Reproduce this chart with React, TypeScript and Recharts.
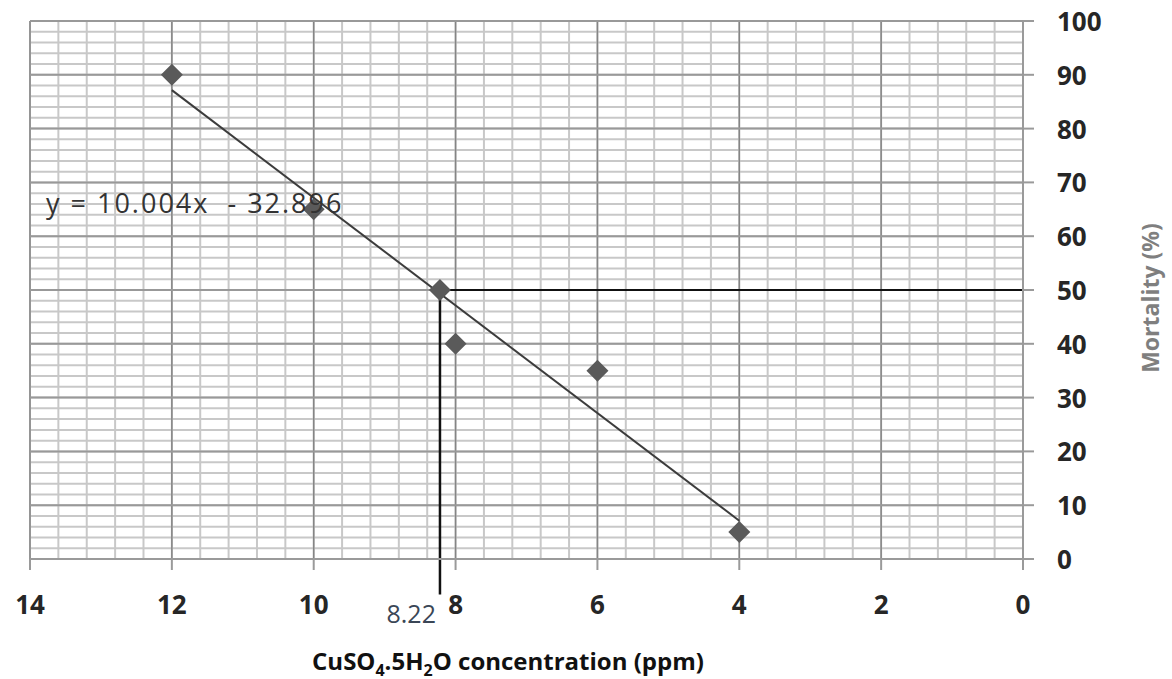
import {
  ComposedChart,
  Scatter,
  XAxis,
  YAxis,
  ReferenceLine,
  Label,
} from "recharts";

// measured mortality at each concentration
const concentrations = [12, 10, 8.22, 8, 6, 4];
const mortality = [90, 65, 50, 40, 35, 5];

// linear trend reported on the chart
const slope = 10.004;
const intercept = -32.896;
const trendFrom = 12;
const trendTo = 4;

const lc50 = 8.22;
const lcLevel = 50;

const xTicks = [0, 2, 4, 6, 8, 10, 12, 14];
const yTicks = [0, 10, 20, 30, 40, 50, 60, 70, 80, 90, 100];

const points = concentrations.map((x, i) => ({ x, y: mortality[i] }));

// fine graph-paper grid: every 0.4 ppm and every 2 %
const minorX: number[] = [];
for (let i = 0; i <= 35; i++) minorX.push(+(i * 0.4).toFixed(1));
const minorY: number[] = [];
for (let i = 0; i <= 50; i++) minorY.push(i * 2);

const font = "'Open Sans', sans-serif";

const Diamond = (props: any) => {
  const { cx, cy } = props;
  const r = 11;
  return (
    <path
      d={`M${cx},${cy - r}L${cx + r},${cy}L${cx},${cy + r}L${cx - r},${cy}Z`}
      fill="#5a5a5a"
    />
  );
};

const XTick = (props: any) => {
  const { x, y, payload } = props;
  return (
    <text
      x={x}
      y={y + 32}
      textAnchor="middle"
      dominantBaseline="central"
      fontFamily={font}
      fontWeight={700}
      fontSize={26}
      fill="#262626"
    >
      {payload.value}
    </text>
  );
};

const YTick = (props: any) => {
  const { x, y, payload } = props;
  return (
    <text
      x={x + 21}
      y={y}
      textAnchor="start"
      dominantBaseline="central"
      fontFamily={font}
      fontWeight={700}
      fontSize={26}
      fill="#262626"
    >
      {payload.value}
    </text>
  );
};

export default function App() {
  return (
    <div
      style={{
        position: "absolute",
        left: 0,
        top: 0,
        width: 1172,
        height: 679,
        background: "#fff",
      }}
    >
      <ComposedChart
        width={1172}
        height={679}
        margin={{ top: 21, right: 49, bottom: 60, left: 30 }}
      >
        <XAxis
          type="number"
          dataKey="x"
          domain={[0, 14]}
          reversed
          ticks={xTicks}
          interval={0}
          height={60}
          tickSize={11}
          tickLine={{ stroke: "#9a9a9a", strokeWidth: 2 }}
          axisLine={{ stroke: "#9a9a9a", strokeWidth: 2 }}
          tick={<XTick />}
        />
        <YAxis
          type="number"
          dataKey="y"
          orientation="right"
          domain={[0, 100]}
          ticks={yTicks}
          interval={0}
          width={100}
          tickSize={11}
          tickLine={{ stroke: "#9a9a9a", strokeWidth: 2 }}
          axisLine={{ stroke: "#9a9a9a", strokeWidth: 2 }}
          tick={<YTick />}
        />
        {minorX.map((v) => (
          <ReferenceLine
            key={`mx${v}`}
            x={v}
            stroke="#c8c8c8"
            strokeWidth={2}
          />
        ))}
        {minorY.map((v) => (
          <ReferenceLine
            key={`my${v}`}
            y={v}
            stroke="#c8c8c8"
            strokeWidth={2}
          />
        ))}
        {xTicks.map((v) => (
          <ReferenceLine
            key={`jx${v}`}
            x={v}
            stroke="#858585"
            strokeWidth={1.5}
          />
        ))}
        {yTicks.map((v) => (
          <ReferenceLine
            key={`jy${v}`}
            y={v}
            stroke="#999"
            strokeWidth={2}
          />
        ))}
        <ReferenceLine
          segment={[
            { x: trendFrom, y: slope * trendFrom + intercept },
            { x: trendTo, y: slope * trendTo + intercept },
          ]}
          stroke="#3c3c3c"
          strokeWidth={2}
        />
        <ReferenceLine
          segment={[
            { x: lc50, y: lcLevel },
            { x: 0, y: lcLevel },
          ]}
          stroke="#111"
          strokeWidth={2}
        />
        <ReferenceLine
          segment={[
            { x: lc50, y: lcLevel },
            { x: lc50, y: -6.6 },
          ]}
          stroke="#111"
          strokeWidth={2.5}
          ifOverflow="visible"
        >
          <Label
            content={(p: any) => {
              const vb = p.viewBox || {};
              return (
                <text
                  x={vb.x - 4}
                  y={vb.y + (vb.height || 0) + 18}
                  textAnchor="end"
                  dominantBaseline="central"
                  fontFamily={font}
                  fontSize={25}
                  fill="#3a4656"
                >
                  {String(lc50)}
                </text>
              );
            }}
          />
        </ReferenceLine>
        <Scatter
          data={points}
          dataKey="y"
          shape={<Diamond />}
          isAnimationActive={false}
        />
      </ComposedChart>
      <div
        style={{
          position: "absolute",
          left: 46,
          top: 185,
          fontFamily: font,
          fontSize: 27,
          letterSpacing: 2,
          color: "#333",
          whiteSpace: "pre",
          lineHeight: "36px",
        }}
      >
        {`y = ${slope}x  - ${Math.abs(intercept)}`}
      </div>
      <div
        style={{
          position: "absolute",
          left: 258,
          width: 500,
          top: 645,
          textAlign: "center",
          fontFamily: font,
          fontWeight: 700,
          fontSize: 24,
          color: "#111",
          whiteSpace: "nowrap",
          lineHeight: "32px",
        }}
      >
        CuSO<sub style={{ fontSize: 16 }}>4</sub>.5H
        <sub style={{ fontSize: 16 }}>2</sub>O concentration (ppm)
      </div>
      <div
        style={{
          position: "absolute",
          left: 1150,
          top: 298,
          transform: "translate(-50%, -50%) rotate(-90deg)",
          fontFamily: font,
          fontWeight: 700,
          fontSize: 23,
          color: "#7f7f7f",
          whiteSpace: "nowrap",
        }}
      >
        Mortality (%)
      </div>
    </div>
  );
}
